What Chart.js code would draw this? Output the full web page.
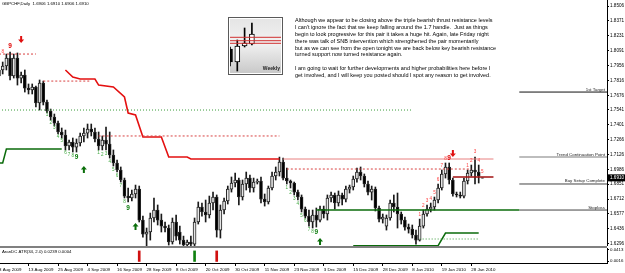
<!DOCTYPE html>
<html>
<head>
<meta charset="utf-8">
<script src="https://cdn.jsdelivr.net/npm/chart.js@4.4.0/dist/chart.umd.min.js"></script>
<style>
  html, body { margin: 0; padding: 0; background: #fff; }
  #wrap { position: relative; width: 625px; height: 273px; overflow: hidden; }
  canvas { position: absolute; display: block; }
  #main { left: 0; top: 0; }
  #sub { left: 0; top: 246px; }
  #weekly { left: 228px; top: 17px; }
</style>
</head>
<body>
<div id="wrap">
  <canvas id="main" width="625" height="246"></canvas>
  <canvas id="sub" width="625" height="27"></canvas>
  <canvas id="weekly" width="55" height="58"></canvas>
</div>
<script>
// GBPCHF daily candles, 3 Aug 2009 .. 1 Feb 2010 (bar index = trading day)
const opens = [
  1.7856,1.7912,1.7949,1.8023,1.7856,1.8023,1.7837,1.7865,1.7744,1.7726,
  1.7754,1.7605,1.7791,1.7614,1.7531,1.7475,1.7419,1.7336,1.7308,1.7206,
  1.7243,1.7196,1.7234,1.7299,1.7326,1.7364,1.7336,1.7271,1.7206,1.7261,
  1.7224,1.7122,1.7048,1.6983,1.6890,1.6741,1.6723,1.6760,1.6806,1.6518,
  1.6388,1.6407,1.6537,1.6611,1.6518,1.6462,1.6444,1.6314,1.6500,1.6407,
  1.6332,1.6286,1.6314,1.6295,1.6500,1.6639,1.6593,1.6565,1.6676,1.6732,
  1.6425,1.6611,1.6695,1.6806,1.6862,1.6890,1.6732,1.6853,1.6908,1.6816,
  1.6871,1.6881,1.6713,1.6686,1.6816,1.6927,1.6964,1.7057,1.6908,1.6881,
  1.6862,1.6778,1.6732,1.6620,1.6555,1.6500,1.6565,1.6518,1.6620,1.6574,
  1.6723,1.6751,1.6676,1.6751,1.6713,1.6806,1.6825,1.6899,1.6964,1.6927,
  1.6853,1.6778,1.6806,1.6630,1.6527,1.6462,1.6537,1.6676,1.6639,1.6574,
  1.6518,1.6453,1.6434,1.6379,1.6332,1.6462,1.6574,1.6620,1.6639,1.6704,
  1.6816,1.6946,1.7011,1.6890,1.6760,1.6751,1.6741,1.6881,1.6955,1.6983,
  1.6964,1.6906
];
const highs = [
  1.7930,1.7986,1.8060,1.8079,1.8060,1.8070,1.7893,1.7912,1.7782,1.7782,
  1.7763,1.7819,1.7809,1.7633,1.7549,1.7503,1.7438,1.7373,1.7354,1.7261,
  1.7280,1.7271,1.7326,1.7373,1.7410,1.7410,1.7373,1.7336,1.7299,1.7382,
  1.7336,1.7169,1.7076,1.7011,1.6908,1.6816,1.6797,1.6843,1.6834,1.6555,
  1.6444,1.6583,1.6723,1.6658,1.6574,1.6500,1.6472,1.6537,1.6565,1.6462,
  1.6369,1.6332,1.6369,1.6537,1.6686,1.6676,1.6704,1.6741,1.6778,1.6751,
  1.6658,1.6723,1.6834,1.6918,1.6955,1.6908,1.6890,1.6964,1.6936,1.6908,
  1.6899,1.6918,1.6760,1.6834,1.6964,1.7011,1.7103,1.7094,1.7001,1.6890,
  1.6871,1.6797,1.6751,1.6639,1.6611,1.6611,1.6630,1.6648,1.6648,1.6751,
  1.6778,1.6769,1.6788,1.6769,1.6834,1.6843,1.6927,1.7001,1.7011,1.6946,
  1.6881,1.6834,1.6825,1.6648,1.6574,1.6565,1.6704,1.6751,1.6769,1.6593,
  1.6546,1.6481,1.6472,1.6425,1.6527,1.6611,1.6658,1.6676,1.6732,1.6853,
  1.6983,1.7048,1.7048,1.6908,1.6778,1.6778,1.6908,1.6983,1.7029,1.7103,
  1.7029,1.6910
];
const lows = [
  1.7819,1.7875,1.7912,1.7819,1.7837,1.7772,1.7791,1.7707,1.7689,1.7689,
  1.7568,1.7540,1.7587,1.7512,1.7447,1.7391,1.7317,1.7280,1.7169,1.7169,
  1.7150,1.7150,1.7206,1.7243,1.7280,1.7299,1.7243,1.7169,1.7169,1.7169,
  1.7094,1.7020,1.6964,1.6871,1.6723,1.6686,1.6695,1.6723,1.6500,1.6360,
  1.6277,1.6332,1.6500,1.6472,1.6407,1.6407,1.6286,1.6295,1.6332,1.6295,
  1.6277,1.6267,1.6267,1.6277,1.6481,1.6555,1.6500,1.6537,1.6611,1.6360,
  1.6351,1.6574,1.6667,1.6778,1.6825,1.6658,1.6704,1.6797,1.6778,1.6778,
  1.6853,1.6676,1.6648,1.6667,1.6797,1.6890,1.6927,1.6890,1.6853,1.6816,
  1.6751,1.6704,1.6593,1.6537,1.6462,1.6444,1.6453,1.6500,1.6537,1.6518,
  1.6686,1.6620,1.6648,1.6658,1.6686,1.6769,1.6797,1.6871,1.6890,1.6825,
  1.6751,1.6704,1.6602,1.6500,1.6490,1.6425,1.6518,1.6593,1.6444,1.6481,
  1.6425,1.6397,1.6351,1.6295,1.6323,1.6444,1.6555,1.6593,1.6611,1.6676,
  1.6797,1.6908,1.6853,1.6741,1.6732,1.6723,1.6723,1.6853,1.6927,1.6853,
  1.6862,1.6906
];
const closes = [
  1.7912,1.7949,1.8023,1.7856,1.8023,1.7837,1.7865,1.7744,1.7726,1.7754,
  1.7605,1.7791,1.7614,1.7531,1.7475,1.7419,1.7336,1.7308,1.7206,1.7243,
  1.7196,1.7234,1.7299,1.7326,1.7364,1.7336,1.7271,1.7206,1.7261,1.7224,
  1.7122,1.7048,1.6983,1.6890,1.6741,1.6723,1.6760,1.6806,1.6518,1.6388,
  1.6407,1.6537,1.6611,1.6518,1.6462,1.6444,1.6314,1.6500,1.6369,1.6332,
  1.6286,1.6314,1.6295,1.6500,1.6639,1.6593,1.6565,1.6676,1.6732,1.6425,
  1.6611,1.6695,1.6806,1.6862,1.6890,1.6732,1.6853,1.6908,1.6816,1.6871,
  1.6881,1.6713,1.6686,1.6816,1.6927,1.6964,1.7057,1.6908,1.6881,1.6862,
  1.6778,1.6732,1.6620,1.6555,1.6500,1.6565,1.6518,1.6620,1.6574,1.6723,
  1.6751,1.6676,1.6751,1.6713,1.6806,1.6825,1.6899,1.6964,1.6927,1.6853,
  1.6778,1.6806,1.6630,1.6527,1.6546,1.6537,1.6676,1.6639,1.6574,1.6518,
  1.6453,1.6434,1.6379,1.6332,1.6462,1.6574,1.6620,1.6639,1.6704,1.6816,
  1.6946,1.7011,1.6890,1.6760,1.6751,1.6741,1.6881,1.6955,1.6983,1.6964,
  1.6927,1.6910
];

const dateBars = [0, 8, 16, 24, 32, 40, 48, 56, 64, 72, 80, 88, 96, 104, 112, 120, 128];
const dateLabels = ['3 Aug 2009', '13 Aug 2009', '25 Aug 2009', '4 Sep 2009', '16 Sep 2009',
  '28 Sep 2009', '8 Oct 2009', '20 Oct 2009', '30 Oct 2009', '11 Nov 2009', '23 Nov 2009',
  '3 Dec 2009', '15 Dec 2009', '28 Dec 2009', '8 Jan 2010', '19 Jan 2010', '28 Jan 2010'];
const yTicks = [1.8506, 1.8371, 1.8231, 1.8091, 1.7956, 1.7816, 1.7676, 1.7541, 1.7401,
  1.7266, 1.7126, 1.6986, 1.6851, 1.6712, 1.6577, 1.6436, 1.6296];

// ATR trailing stop (red) and support steps (green): [bar, price]
const stopBars = [18, 20, 22, 26, 27, 31, 34, 35, 37, 39, 44, 46, 51, 52, 76];
const stopPrices = [1.7912, 1.7847, 1.7828, 1.7828, 1.7772, 1.7754, 1.7661, 1.7512, 1.7494,
  1.7289, 1.7289, 1.7103, 1.7103, 1.7085, 1.7085];
const supportA = { bars: [0, 1, 2, 17], prices: [1.7048, 1.7048, 1.7178, 1.7178] };
const supportC = { bars: [96, 119, 121, 130], prices: [1.6280, 1.6280, 1.6397, 1.6397] };
// horizontal segments: [fromBar, toBar, price]
const redDotted = [[0, 10, 1.8060], [12, 25, 1.7809], [27, 76, 1.7299], [78, 128, 1.6992]];
const greenDotted = [[0, 112, 1.7540], [114, 130, 1.6342]];
const greenSolid = [[86, 141, 1.6611]];
const redThin = [[77, 134, 1.7085]];
const redDark = [[123, 134, 1.6918]];

const levelNames = ['1st Target', 'Trend Continuation Point', 'Buy Setup Complete', 'Stoploss'];
const levelPrices = [1.7707, 1.7103, 1.6853, 1.6611];
const levelFrom = 141;

// TD setup counts
const tdBars = [1, 3, 13, 14, 15, 16, 17, 18, 19, 20, 21, 27, 28, 29, 30, 31, 32, 33, 34, 35,
  78, 79, 80, 81, 82, 83, 84, 85, 86, 114, 115, 116, 117, 118, 119, 120, 121, 122,
  127, 128, 129, 130, 131];
const tdCount = [8, 9, 1, 2, 3, 4, 5, 6, 7, 8, 9, 1, 2, 3, 4, 5, 6, 7, 8, 9,
  1, 2, 3, 4, 5, 6, 7, 8, 9, 1, 2, 3, 4, 5, 6, 7, 8, 9, 1, 2, 3, 4, 5];
const tdPrice = [1.8079, 1.8135, 1.7494, 1.7419, 1.7373, 1.7289, 1.7252, 1.7141, 1.7122, 1.7113, 1.7103,
  1.7141, 1.7122, 1.7131, 1.7057, 1.6983, 1.6927, 1.6834, 1.6686, 1.6630,
  1.6816, 1.6769, 1.6713, 1.6667, 1.6555, 1.6509, 1.6425, 1.6407, 1.6407,
  1.6565, 1.6648, 1.6695, 1.6713, 1.6769, 1.6890, 1.7020, 1.7085, 1.7094,
  1.7020, 1.7066, 1.7150, 1.7066, 1.6964];
const tdSide = ['sell', 'sell'].concat(Array(27).fill('buy'), Array(14).fill('sell'));

const arrowBars = [6, 23, 37, 87, 123];
const arrowPrice = [1.8200, 1.6983, 1.6453, 1.6314, 1.7141];
const arrowSide = ['sell', 'buy', 'buy', 'buy', 'sell'];

// ATR stop reversal signals (lower panel)
const signalBars = [38, 53, 59];
const signalSide = ['sell', 'buy', 'sell'];
const signalTop = [0.0380, 0.0380, 0.0380];
const subTicks = [0.0413, 0.0016];

// weekly inset
const weeklyOpen = [1.6432, 1.5795, 1.6579, 1.6677];
const weeklyHigh = [1.6530, 1.6873, 1.7461, 1.7706];
const weeklyLow = [1.5599, 1.5354, 1.6530, 1.6628];
const weeklyClose = [1.5795, 1.6579, 1.6726, 1.7167];
const weeklyLevels = [1.7005, 1.6839, 1.6711];

const noteLines = [
  "Although we appear to be closing above the triple bearish thrust resistance levels",
  "I can't ignore the fact that we keep falling around the 1.7 handle.  Just as things",
  "begin to look progressive for this pair it takes a huge hit. Again, late Friday night",
  "there was talk of SNB intervention which strengthened the pair momentarily",
  "but as we can see from the open tonight we are back below key bearish resistance",
  "turned support now turned resistance again.",
  "",
  "I am going to wait for further developments and higher probabilities here before I",
  "get involved, and I will keep you posted should I spot any reason to get involved."
];
const titleText = 'GBPCHF,Daily  1.6906 1.6910 1.6906 1.6910';
const indicatorText = 'AranDC ATR(34, 2.0) 0.0239 0.0004';

const FONT = '"Liberation Sans", Arial, sans-serif';
const xMin = 0.271, xMax = 164.77;
const yMin = 1.6277, yMax = 1.8562;

Chart.defaults.font.family = FONT;
Chart.defaults.color = '#000';

function seg(s, color, width, dash) {
  return {
    type: 'line', order: 1,
    data: [{ x: s[0], y: s[2] }, { x: s[1], y: s[2] }],
    borderColor: color, borderWidth: width, borderDash: dash || [],
    pointRadius: 0, tension: 0
  };
}
function path(bars, prices, color, width) {
  return {
    type: 'line', order: 1,
    data: bars.map((b, i) => ({ x: b, y: prices[i] })),
    borderColor: color, borderWidth: width, pointRadius: 0, tension: 0
  };
}

const lineSets = [
  ...redDotted.map(s => seg(s, '#d84040', 1, [2, 2])),
  ...greenDotted.map(s => seg(s, '#3a9a3a', 1, [1, 2])),
  ...greenSolid.map(s => seg(s, '#0b6b0b', 1.5)),
  ...redThin.map(s => seg(s, '#e88080', 1)),
  ...redDark.map(s => seg(s, '#a01010', 1.5)),
  path(stopBars, stopPrices, '#e41010', 1.6),
  path(supportA.bars, supportA.prices, '#0b6b0b', 1.5),
  path(supportC.bars, supportC.prices, '#0b6b0b', 1.5),
  ...levelPrices.map((p, i) => seg([levelFrom, xMax + 1, p],
    ['#111', '#bdbdbd', '#444', '#444'][i], i === 1 ? 2 : 1))
];

const wickSet = {
  type: 'bar', order: 6, grouped: false,
  data: highs.map((h, i) => ({ x: i, y: [lows[i], h] })),
  backgroundColor: '#1a1a1a', barThickness: 1
};
const bodySet = {
  type: 'bar', order: 5, grouped: false,
  data: opens.map((o, i) => ({ x: i, y: [o, closes[i]] })),
  backgroundColor: opens.map((o, i) => closes[i] >= o ? '#e6e6e6' : '#000000'),
  borderColor: '#222', borderWidth: 1, borderSkipped: false, barThickness: 3
};

const mainDecor = {
  id: 'mainDecor',
  afterDatasetsDraw(chart) {
    const { ctx, scales: { x: xs, y: ys } } = chart;
    ctx.save();
    ctx.textAlign = 'center';
    ctx.textBaseline = 'middle';
    tdBars.forEach((b, k) => {
      const big = tdCount[k] === 9;
      const buy = tdSide[k] === 'buy';
      ctx.font = (big ? 'bold 6.5px ' : '4.6px ') + FONT;
      ctx.fillStyle = buy ? (big ? '#0a7a0a' : '#3fa83f') : (big ? '#e00000' : '#ff4040');
      ctx.fillText(String(tdCount[k]), xs.getPixelForValue(b), ys.getPixelForValue(tdPrice[k]));
    });
    arrowBars.forEach((b, k) => {
      const px = xs.getPixelForValue(b), py = ys.getPixelForValue(arrowPrice[k]);
      const d = arrowSide[k] === 'buy' ? -1 : 1;
      ctx.fillStyle = d < 0 ? '#0a6e0a' : '#e01010';
      ctx.beginPath();
      ctx.moveTo(px, py + d * 4);
      ctx.lineTo(px - 3, py + d * 0.5);
      ctx.lineTo(px - 1, py + d * 0.5);
      ctx.lineTo(px - 1, py - d * 3);
      ctx.lineTo(px + 1, py - d * 3);
      ctx.lineTo(px + 1, py + d * 0.5);
      ctx.lineTo(px + 3, py + d * 0.5);
      ctx.closePath();
      ctx.fill();
    });
    // level labels
    ctx.font = '4.4px ' + FONT;
    ctx.fillStyle = '#222';
    ctx.textAlign = 'right';
    ctx.textBaseline = 'bottom';
    levelNames.forEach((n, i) => {
      ctx.fillText(n, chart.chartArea.right - 2, ys.getPixelForValue(levelPrices[i]) - 0.5);
    });
    // title and comment
    ctx.textAlign = 'left';
    ctx.textBaseline = 'middle';
    ctx.font = '4.3px ' + FONT;
    ctx.fillStyle = '#000';
    ctx.fillText(titleText, 2, 4);
    ctx.font = '5.5px ' + FONT;
    noteLines.forEach((t, i) => ctx.fillText(t, 295, 20.8 + i * 6.8));
    ctx.restore();
  },
  afterDraw(chart) {
    const { ctx, scales: { y: ys } } = chart;
    const py = ys.getPixelForValue(closes[closes.length - 1]);
    ctx.save();
    ctx.fillStyle = '#000';
    ctx.fillRect(chart.chartArea.right, py - 3.5, 18, 7);
    ctx.fillStyle = '#fff';
    ctx.font = '4.6px ' + FONT;
    ctx.textBaseline = 'middle';
    ctx.textAlign = 'left';
    ctx.fillText(closes[closes.length - 1].toFixed(4), chart.chartArea.right + 3, py);
    ctx.restore();
  }
};

new Chart(document.getElementById('main'), {
  type: 'bar',
  data: { datasets: [...lineSets, bodySet, wickSet] },
  options: {
    responsive: false, animation: false, events: [],
    layout: { padding: 0 },
    plugins: { legend: { display: false }, tooltip: { enabled: false } },
    scales: {
      x: { type: 'linear', min: xMin, max: xMax, display: false, offset: false },
      y: {
        type: 'linear', position: 'right', min: yMin, max: yMax,
        afterBuildTicks: s => { s.ticks = yTicks.map(v => ({ value: v })); },
        afterFit: s => { s.width = 18; s.paddingTop = 0; s.paddingBottom = 0; },
        ticks: { font: { size: 4.6 }, color: '#000', padding: 1, autoSkip: false, callback: v => v.toFixed(4) },
        grid: { drawOnChartArea: false, tickLength: 2, color: '#000' },
        border: { display: true, color: '#000', width: 1 }
      }
    }
  },
  plugins: [mainDecor]
});

const subDecor = {
  id: 'subDecor',
  beforeDatasetsDraw(chart) {
    const { ctx } = chart;
    ctx.save();
    ctx.fillStyle = '#808080';
    ctx.fillRect(0, 0, chart.chartArea.right, 2);
    ctx.font = '4.3px ' + FONT;
    ctx.fillStyle = '#000';
    ctx.textBaseline = 'middle';
    ctx.fillText(indicatorText, 2, 5.5);
    ctx.restore();
  }
};

new Chart(document.getElementById('sub'), {
  type: 'bar',
  data: {
    datasets: [{
      grouped: false,
      data: signalBars.map((b, k) => ({ x: b, y: [0, signalTop[k]] })),
      backgroundColor: signalSide.map(s => s === 'buy' ? '#108010' : '#d01010'),
      barThickness: 2
    }]
  },
  options: {
    responsive: false, animation: false, events: [],
    layout: { padding: { top: 2 } },
    plugins: { legend: { display: false }, tooltip: { enabled: false } },
    scales: {
      x: {
        type: 'linear', min: xMin, max: xMax, offset: false,
        afterBuildTicks: s => { s.ticks = dateBars.map(v => ({ value: v })); },
        afterFit: s => { s.height = 10; s.paddingLeft = 0; s.paddingRight = 0; },
        ticks: { font: { size: 4.4 }, color: '#000', padding: 1, align: 'start', maxRotation: 0, autoSkip: false,
          callback: (v, i) => dateLabels[i] },
        grid: { drawOnChartArea: false, tickLength: 3, color: '#000', offset: false },
        border: { display: true, color: '#000' }
      },
      y: {
        type: 'linear', position: 'right', min: -0.0056, max: 0.0485,
        afterBuildTicks: s => { s.ticks = subTicks.map(v => ({ value: v })); },
        afterFit: s => { s.width = 18; s.paddingTop = 0; s.paddingBottom = 0; },
        ticks: { font: { size: 4.4 }, color: '#000', padding: 1, autoSkip: false, callback: v => v.toFixed(4) },
        grid: { drawOnChartArea: false, tickLength: 2, color: '#000' },
        border: { display: true, color: '#000' }
      }
    }
  },
  plugins: [subDecor]
});

const weeklyFrame = {
  id: 'weeklyFrame',
  beforeDraw(chart) {
    const { ctx, width, height } = chart;
    const g = ctx.createLinearGradient(0, 0, 0, height);
    g.addColorStop(0, '#e4e4e4');
    g.addColorStop(0.45, '#f2f2f2');
    g.addColorStop(1, '#c6c6c6');
    ctx.save();
    ctx.fillStyle = g;
    ctx.fillRect(0, 0, width, height);
    ctx.restore();
  },
  afterDraw(chart) {
    const { ctx, width, height } = chart;
    ctx.save();
    ctx.strokeStyle = '#5a5a5a';
    ctx.lineWidth = 1;
    ctx.strokeRect(0.5, 0.5, width - 1, height - 1);
    ctx.strokeStyle = '#ffffff';
    ctx.strokeRect(1.5, 1.5, width - 3, height - 3);
    ctx.font = 'bold 5px ' + FONT;
    ctx.fillStyle = '#222';
    ctx.textAlign = 'right';
    ctx.textBaseline = 'bottom';
    ctx.fillText('Weekly', width - 3, height - 4);
    ctx.restore();
  }
};

new Chart(document.getElementById('weekly'), {
  type: 'bar',
  data: {
    datasets: [
      ...weeklyLevels.map(p => ({
        type: 'line', order: 1, data: [{ x: -1, y: p }, { x: 9, y: p }],
        borderColor: '#d03030', borderWidth: 1, pointRadius: 0
      })),
      {
        order: 5, grouped: false,
        data: weeklyOpen.map((o, i) => ({ x: i, y: [o, weeklyClose[i]] })),
        backgroundColor: weeklyOpen.map((o, i) => weeklyClose[i] >= o ? '#ffffff' : '#000000'),
        borderColor: '#000', borderWidth: 1, borderSkipped: false, barThickness: 5
      },
      {
        order: 6, grouped: false,
        data: weeklyHigh.map((h, i) => ({ x: i, y: [weeklyLow[i], h] })),
        backgroundColor: '#000', barThickness: 1
      }
    ]
  },
  options: {
    responsive: false, animation: false, events: [],
    layout: { padding: 0 },
    plugins: { legend: { display: false }, tooltip: { enabled: false } },
    scales: {
      x: { type: 'linear', min: -0.274, max: 7.26, display: false, offset: false },
      y: { type: 'linear', min: 1.5158, max: 1.80, display: false }
    }
  },
  plugins: [weeklyFrame]
});
</script>
</body>
</html>
